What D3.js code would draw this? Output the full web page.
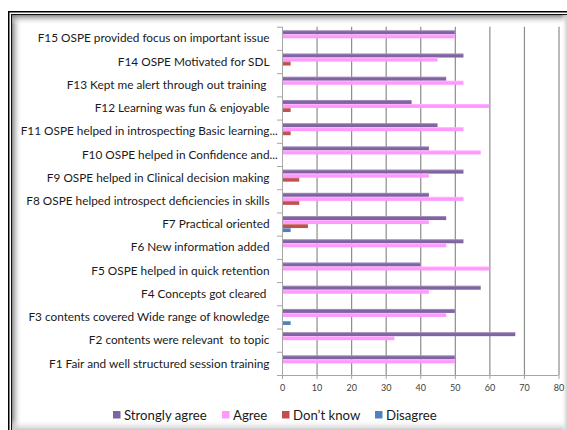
<!DOCTYPE html>
<html>
<head>
<meta charset="utf-8">
<script src="https://cdn.jsdelivr.net/npm/d3@7/dist/d3.min.js"></script>
<style>
  html, body { margin: 0; padding: 0; background: #fff; }
  svg { display: block; }
</style>
</head>
<body>
<svg id="chart" width="567" height="430"></svg>
<script>
// Survey statements, F1 at the bottom of the chart, F15 at the top
const categories = [
  "F1 Fair and well structured session training",
  "F2 contents were relevant  to topic",
  "F3 contents covered Wide range of knowledge",
  "F4 Concepts got cleared ",
  "F5 OSPE helped in quick retention",
  "F6 New information added",
  "F7 Practical oriented",
  "F8 OSPE helped introspect deficiencies in skills",
  "F9 OSPE helped in Clinical decision making",
  "F10 OSPE helped in Confidence and...",
  "F11 OSPE helped in introspecting Basic learning...",
  "F12 Learning was fun & enjoyable",
  "F13 Kept me alert through out training ",
  "F14 OSPE Motivated for SDL",
  "F15 OSPE provided focus on important issue"
];

// Percentage of responses per statement
const stronglyAgree = [50, 67.5, 50, 57.5, 40, 52.5, 47.5, 42.5, 52.5, 42.5, 45, 37.5, 47.5, 52.5, 50];
const agree         = [50, 32.5, 47.5, 42.5, 60, 47.5, 42.5, 52.5, 42.5, 57.5, 52.5, 60, 52.5, 45, 50];
const dontKnow      = [0, 0, 0, 0, 0, 0, 7.5, 5, 5, 0, 2.5, 2.5, 0, 2.5, 0];
const disagree      = [0, 0, 2.5, 0, 0, 0, 2.5, 0, 0, 0, 0, 0, 0, 0, 0];

const seriesNames  = ["Strongly agree", "Agree", "Don\u2019t know", "Disagree"];
const seriesColors = ["#8064A2", "#FF99FF", "#C0504D", "#4F81BD"];
const xTicks = [0, 10, 20, 30, 40, 50, 60, 70, 80];

const seriesValues = [stronglyAgree, agree, dontKnow, disagree];

const svg = d3.select("#chart");
const labelFont = "Lato, 'Open Sans', sans-serif";

// ---- frame with soft inner shadow ----
const defs = svg.append("defs");
function grad(id, x1, y1, x2, y2, stops) {
  const g = defs.append("linearGradient").attr("id", id)
    .attr("x1", x1).attr("y1", y1).attr("x2", x2).attr("y2", y2);
  stops.forEach(s => g.append("stop").attr("offset", s[0]).attr("stop-color", s[1]).attr("stop-opacity", s[2]));
}
grad("shL", 0, 0, 1, 0, [[0, "#7a7a7a", 0.9], [1, "#ffffff", 0]]);
grad("shT", 0, 0, 0, 1, [[0, "#7a7a7a", 0.9], [1, "#ffffff", 0]]);
grad("shB", 0, 0, 0, 1, [[0, "#ffffff", 0], [1, "#c8c8c8", 1]]);
grad("shR", 0, 0, 1, 0, [[0, "#ffffff", 0], [1, "#d0d0d0", 1]]);

const frame = svg.append("g");
frame.append("rect").attr("x", 12).attr("y", 15).attr("width", 10).attr("height", 420).attr("fill", "url(#shL)");
frame.append("rect").attr("x", 12).attr("y", 15).attr("width", 560).attr("height", 10).attr("fill", "url(#shT)");
frame.append("rect").attr("x", 12).attr("y", 419).attr("width", 560).attr("height", 11).attr("fill", "url(#shB)");
frame.append("rect").attr("x", 561).attr("y", 15).attr("width", 6).attr("height", 420).attr("fill", "url(#shR)");
frame.append("rect").attr("x", 8.75).attr("y", 11.75).attr("width", 600).attr("height", 500)
  .attr("fill", "none").attr("stroke", "#000").attr("stroke-width", 1.5);
frame.append("rect").attr("x", 11.5).attr("y", 14.5).attr("width", 600).attr("height", 500)
  .attr("fill", "none").attr("stroke", "#111").attr("stroke-width", 1);

// ---- scales ----
const plotTop = 26.7, plotBottom = 375, plotLeft = 282, plotRight = 558.5;
const x = d3.scaleLinear().domain([0, 80]).range([plotLeft, plotRight]);
const displayOrder = categories.slice().reverse();
const y = d3.scaleBand().domain(displayOrder).range([plotTop, plotBottom])
  .paddingInner(0.31).paddingOuter(0.155);
const ySub = d3.scaleBand().domain(seriesNames).range([0, y.bandwidth()]);

// ---- gridlines ----
svg.append("g")
  .attr("transform", `translate(0,${plotTop})`)
  .call(d3.axisTop(x).tickValues(xTicks.filter(t => t > 0)).tickSize(-(plotBottom - plotTop)).tickFormat(""))
  .call(g => g.select(".domain").remove())
  .call(g => g.selectAll("line").attr("stroke", "#8c8c8c").attr("stroke-width", 1.2));

// ---- bars ----
const rows = categories.map((c, i) => ({ cat: c, vals: seriesValues.map(s => s[i]) }));
const groups = svg.append("g").selectAll("g").data(rows).join("g")
  .attr("transform", d => `translate(0,${y(d.cat)})`);
groups.selectAll("rect.bar")
  .data(d => d.vals.map((v, k) => ({ v, k })).filter(e => e.v > 0))
  .join("rect").attr("class", "bar")
  .attr("x", x(0))
  .attr("y", e => ySub(seriesNames[e.k]))
  .attr("width", e => x(e.v) - x(0))
  .attr("height", ySub.bandwidth())
  .attr("fill", e => seriesColors[e.k]);
// light top edge on each bar
groups.selectAll("rect.hi")
  .data(d => d.vals.map((v, k) => ({ v, k })).filter(e => e.v > 0))
  .join("rect").attr("class", "hi")
  .attr("x", x(0))
  .attr("y", e => ySub(seriesNames[e.k]))
  .attr("width", e => x(e.v) - x(0))
  .attr("height", 1)
  .attr("fill", "#fff").attr("opacity", 0.25);

// ---- x axis ----
svg.append("g")
  .attr("transform", `translate(0,${plotBottom})`)
  .call(d3.axisBottom(x).tickValues(xTicks).tickSize(4).tickPadding(6))
  .call(g => g.select(".domain").attr("stroke", "#a6a6a6").attr("d", `M${plotLeft},0.5H${plotRight}`))
  .call(g => g.selectAll(".tick line").attr("stroke", "#a6a6a6"))
  .call(g => g.selectAll("text").attr("font-family", labelFont).attr("font-size", 9).attr("fill", "#404040"));

// ---- category axis ----
const boundary = d3.scaleLinear().domain([0, categories.length]).range([plotTop, plotBottom]);
svg.append("g")
  .attr("transform", `translate(${plotLeft},0)`)
  .call(d3.axisLeft(boundary).tickValues(d3.range(0, categories.length + 1)).tickSize(5).tickFormat(""))
  .call(g => g.select(".domain").attr("stroke", "#a6a6a6").attr("d", `M0.5,${plotTop}V${plotBottom}`))
  .call(g => g.selectAll(".tick line").attr("stroke", "#a6a6a6"));

const labelRight = 269.5;
const labelSize = 11.8;
const labels = svg.append("g").selectAll("g").data(displayOrder).join("g")
  .attr("transform", d => `translate(0,${y(d) + y.bandwidth() / 2})`);
labels.append("text")
  .attr("x", labelRight).attr("dy", "0.35em")
  .attr("text-anchor", "end")
  .attr("font-family", labelFont).attr("font-size", labelSize).attr("fill", "#1a1a1a")
  .style("white-space", "pre")
  .text(d => d.endsWith("...") ? d.slice(0, -3) : d);
labels.filter(d => d.endsWith("..."))
  .append("text")
  .attr("x", labelRight).attr("dy", "0.35em")
  .attr("font-family", labelFont).attr("font-size", labelSize).attr("fill", "#1a1a1a")
  .text("...");

// ---- legend ----
const legendX = [113, 222, 282, 375];
const legend = svg.append("g").selectAll("g").data(seriesNames).join("g")
  .attr("transform", (d, i) => `translate(${legendX[i]},415)`);
legend.append("rect").attr("x", 0).attr("y", -4).attr("width", 7.5).attr("height", 7.5)
  .attr("fill", (d, i) => seriesColors[i]);
legend.append("text").attr("x", 11).attr("dy", "0.35em")
  .attr("font-family", labelFont).attr("font-size", 13.2).attr("fill", "#1a1a1a")
  .text(d => d);
</script>
</body>
</html>
